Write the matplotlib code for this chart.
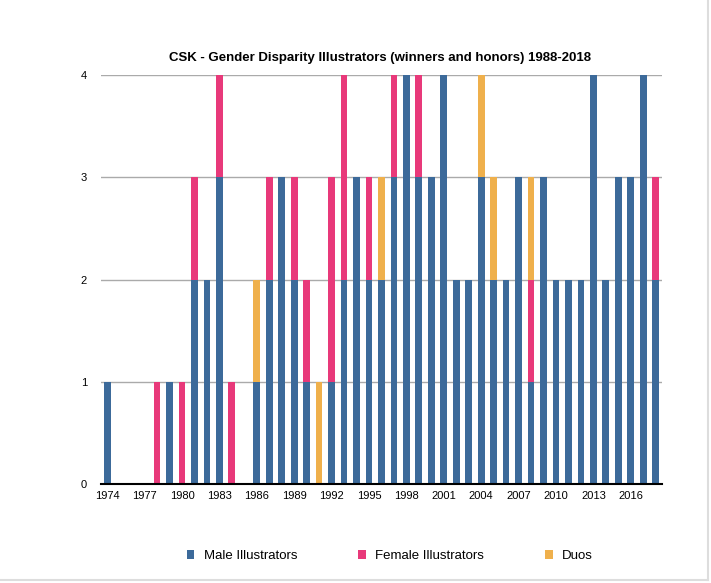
import numpy as np
import matplotlib
matplotlib.use("Agg")
import matplotlib.pyplot as plt
from matplotlib.lines import Line2D

plt.rcParams["font.family"] = ["Liberation Sans", "DejaVu Sans"]

# yillar ve seriler
years = list(range(1974, 2019))
male = [1, 0, 0, 0, 0, 1, 0, 2, 2, 3, 0, 0, 1, 2, 3, 2, 1, 0, 1, 2, 3, 2, 2, 3, 4, 3, 3, 4, 2, 2,
        3, 2, 2, 3, 1, 3, 2, 2, 2, 4, 2, 3, 3, 4, 2]
female = [0, 0, 0, 0, 1, 0, 1, 1, 0, 1, 1, 0, 0, 1, 0, 1, 1, 0, 2, 2, 0, 1, 0, 1, 0, 1, 0, 0, 0, 0,
          0, 0, 0, 0, 1, 0, 0, 0, 0, 0, 0, 0, 0, 0, 1]
duos = [0, 0, 0, 0, 0, 0, 0, 0, 0, 0, 0, 0, 1, 0, 0, 0, 0, 1, 0, 0, 0, 0, 1, 0, 0, 0, 0, 0, 0, 0,
        1, 1, 0, 0, 1, 0, 0, 0, 0, 0, 0, 0, 0, 0, 0]
tick_years = list(range(1974, 2017, 3))

c_male = "#3C6A9A"
c_female = "#E8397A"
c_duo = "#EFB04C"

fig = plt.figure(figsize=(7.11, 5.83), dpi=100)
ax = fig.add_axes([0.142, 0.170, 0.789, 0.701])

x = np.arange(len(years))
male = np.array(male)
female = np.array(female)
duos = np.array(duos)
w = 0.54

b1 = ax.bar(x, male, w, color=c_male, zorder=3, label="Male Illustrators")
b2 = ax.bar(x, female, w, bottom=male, color=c_female, zorder=3, label="Female Illustrators")
b3 = ax.bar(x, duos, w, bottom=male + female, color=c_duo, zorder=3, label="Duos")

ax.set_xlim(-0.5, len(years) - 0.5)
ax.set_ylim(0, 4)
ax.set_yticks([0, 1, 2, 3, 4])
ax.set_xticks([years.index(y) for y in tick_years])
ax.set_xticklabels([str(y) for y in tick_years])
ax.tick_params(axis="both", length=0, labelsize=8, pad=5)
ax.tick_params(axis="y", pad=10)

ax.grid(axis="y", color="#aaaaaa", linewidth=1, zorder=0)
for s in ["top", "right", "left"]:
    ax.spines[s].set_visible(False)
ax.spines["bottom"].set_linewidth(1.5)
ax.spines["bottom"].set_zorder(4)

fig.text(0.535, 0.900, "CSK - Gender Disparity Illustrators (winners and honors) 1988-2018",
         ha="center", va="center", fontsize=9.5, fontweight="bold")

fig.legend(handles=[b1, b2, b3], loc="center", bbox_to_anchor=(0.548, 0.046), ncol=3,
           frameon=False, fontsize=9.5, handlelength=0.6, handleheight=0.6,
           columnspacing=4.6, handletextpad=0.7)

# kenar cizgileri
fig.add_artist(Line2D([0.996, 0.996], [0.005, 1], color="#dddddd", linewidth=1.5))
fig.add_artist(Line2D([0, 0.996], [0.005, 0.005], color="#dddddd", linewidth=1.5))

fig.savefig("out.png", dpi=100)
